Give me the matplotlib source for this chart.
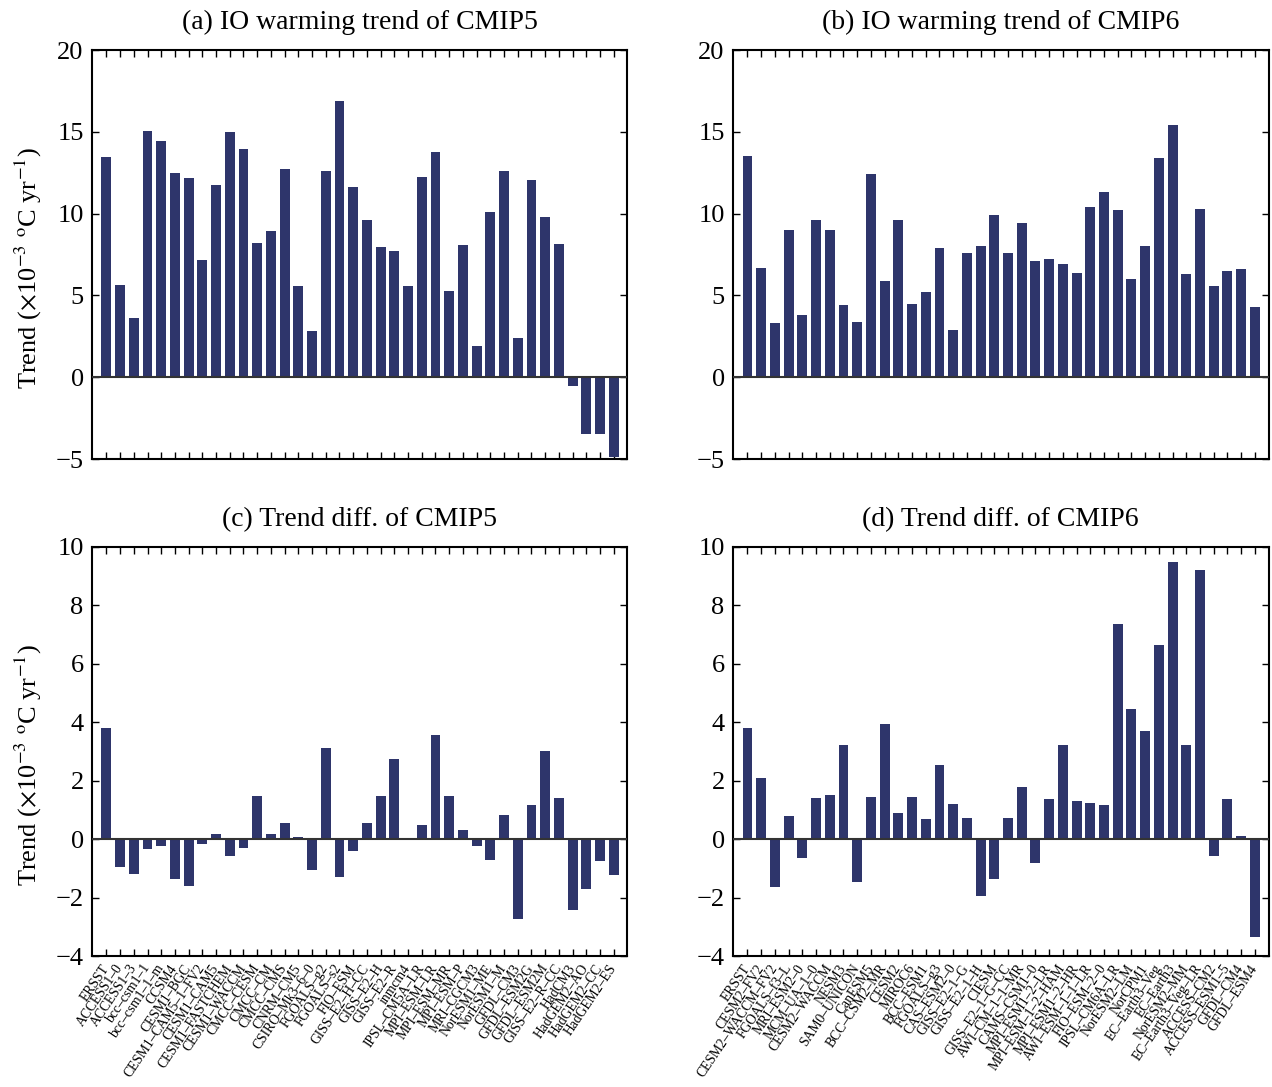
import matplotlib
matplotlib.use("Agg")
import matplotlib.pyplot as plt
import numpy as np

plt.rcParams['font.family'] = ['Liberation Serif', 'DejaVu Serif']
plt.rcParams['mathtext.fontset'] = 'stix'

# model names
cmip5_models = ["ERSST", "ACCESS1-0", "ACCESS1-3", "bcc-csm1-1", "bcc-csm1-1-m", "CCSM4",
                "CESM1-BGC", "CESM1-CAM5-1-FV2", "CESM1-CAM5", "CESM1-FASTCHEM", "CESM1-WACCM",
                "CMCC-CESM", "CMCC-CM", "CMCC-CMS", "CNRM-CM5", "CSIRO-Mk3-6-0", "FGOALS-g2",
                "FGOALS-s2", "FIO-ESM", "GISS-E2-H-CC", "GISS-E2-H", "GISS-E2-R", "inmcm4",
                "IPSL-CM5A-LR", "MPI-ESM-LR", "MPI-ESM-MR", "MPI-ESM-P", "MRI-CGCM3",
                "NorESM1-ME", "NorESM1-M", "GFDL-CM3", "GFDL-ESM2G", "GFDL-ESM2M",
                "GISS-E2-R-CC", "HadCM3", "HadGEM2-AO", "HadGEM2-CC", "HadGEM2-ES"]

cmip6_models = ["ERSST", "CESM2-FV2", "CESM2-WACCM-FV2", "FGOALS-f3-L", "MRI-ESM2-0",
                "MCM-UA-1-0", "CESM2-WACCM", "NESM3", "SAM0-UNICON", "CanESM5", "BCC-CSM2-MR",
                "CESM2", "MIROC6", "BCC-ESM1", "FGOALS-g3", "CAS-ESM2-0", "GISS-E2-1-G",
                "GISS-E2-1-H", "CIESM", "GISS-E2-1-G-CC", "AWI-CM-1-1-MR", "CAMS-CSM1-0",
                "MPI-ESM1-2-LR", "MPI-ESM-1-2-HAM", "MPI-ESM1-2-HR", "AWI-ESM-1-1-LR",
                "FIO-ESM-2-0", "IPSL-CM6A-LR", "NorESM2-LM", "NorCPM1", "EC-Earth3-Veg",
                "EC-Earth3", "NorESM2-MM", "EC-Earth3-Veg-LR", "ACCESS-CM2", "ACCESS-ESM1-5",
                "GFDL-CM4", "GFDL-ESM4"]

# trends (x1e-3 degC/yr)
cmip5_trend = [13.47, 5.66, 3.64, 15.06, 14.45, 12.50, 12.19, 7.19, 11.76, 15.0, 13.96,
               8.22, 8.96, 12.74, 5.60, 2.85, 12.62, 16.89, 11.64, 9.63, 7.98, 7.73, 5.60,
               12.25, 13.78, 5.29, 8.10, 1.93, 10.12, 12.62, 2.42, 12.07, 9.81, 8.16,
               -0.55, -3.48, -3.48, -4.88]

cmip6_trend = [13.5, 6.7, 3.3, 9.0, 3.8, 9.6, 9.0, 4.4, 3.4, 12.4, 5.9, 9.6, 4.5, 5.2,
               7.9, 2.9, 7.6, 8.0, 9.9, 7.6, 9.4, 7.1, 7.2, 6.9, 6.4, 10.4, 11.3, 10.2,
               6.0, 8.0, 13.4, 15.4, 6.3, 10.3, 5.6, 6.5, 6.6, 4.3]

# trend differences
cmip5_diff = [3.82, -0.94, -1.18, -0.35, -0.22, -1.38, -1.62, -0.15, 0.16, -0.59, -0.32,
              1.48, 0.19, 0.56, 0.06, -1.04, 3.13, -1.31, -0.42, 0.56, 1.48, 2.75, 0.02,
              0.47, 3.58, 1.48, 0.32, -0.22, -0.70, 0.83, -2.72, 1.18, 3.03, 1.42, -2.41,
              -1.69, -0.76, -1.24]

cmip6_diff = [3.81, 2.10, -1.65, 0.80, -0.63, 1.41, 1.52, 3.23, -1.45, 1.45, 3.94, 0.90,
              1.45, 0.70, 2.54, 1.21, 0.73, -1.93, -1.38, 0.73, 1.79, -0.83, 1.38, 3.23,
              1.31, 1.24, 1.17, 7.36, 4.46, 3.70, 6.64, 9.48, 3.23, 9.21, -0.56, 1.38,
              0.11, -3.36]

bar_color = '#2E356B'
ylab = 'Trend ($\\times$10$^{-3}$ $^{\\rm o}$C yr$^{-1}$)'

fig = plt.figure(figsize=(12.72, 10.87), dpi=100)
w = 0.421
h = 0.3763
ax_a = fig.add_axes([0.0723, 0.5777, w, h])
ax_b = fig.add_axes([0.5763, 0.5777, w, h])
ax_c = fig.add_axes([0.0723, 0.1205, w, h])
ax_d = fig.add_axes([0.5763, 0.1205, w, h])


def draw(ax, vals, names, title, ylim, yticks, show_names):
    x = np.arange(1, len(vals) + 1)
    ax.bar(x, vals, width=0.72, color=bar_color, zorder=2)
    ax.axhline(0, color='#333333', lw=1.5, zorder=3)
    ax.set_xlim(-0.05, len(vals) + 1)
    ax.set_ylim(*ylim)
    ax.set_yticks(yticks)
    ax.set_yticklabels(['\u2212' + str(-t) if t < 0 else str(t) for t in yticks])
    ax.set_xticks(x)
    if show_names:
        ax.set_xticklabels([n.replace('-', '\u2013') for n in names], rotation=56,
                           ha='right', va='center', rotation_mode='anchor', fontsize=9.8)
    else:
        ax.set_xticklabels([])
    ax.tick_params(axis='both', direction='in', top=True, right=True, length=5, width=1)
    ax.tick_params(axis='y', labelsize=19, pad=6)
    ax.tick_params(axis='x', pad=7)
    for s in ax.spines.values():
        s.set_linewidth(1.5)
    ax.set_title(title, fontsize=20, pad=15)


draw(ax_a, cmip5_trend, cmip5_models, '(a) IO warming trend of CMIP5', (-5, 20), [-5, 0, 5, 10, 15, 20], False)
draw(ax_b, cmip6_trend, cmip6_models, '(b) IO warming trend of CMIP6', (-5, 20), [-5, 0, 5, 10, 15, 20], False)
draw(ax_c, cmip5_diff, cmip5_models, '(c) Trend diff. of CMIP5', (-4, 10), [-4, -2, 0, 2, 4, 6, 8, 10], True)
draw(ax_d, cmip6_diff, cmip6_models, '(d) Trend diff. of CMIP6', (-4, 10), [-4, -2, 0, 2, 4, 6, 8, 10], True)

for ax in (ax_a, ax_c):
    ax.set_ylabel(ylab, fontsize=19)
    ax.yaxis.set_label_coords(-0.09, 0.467)

plt.savefig('out.png', dpi=100)
